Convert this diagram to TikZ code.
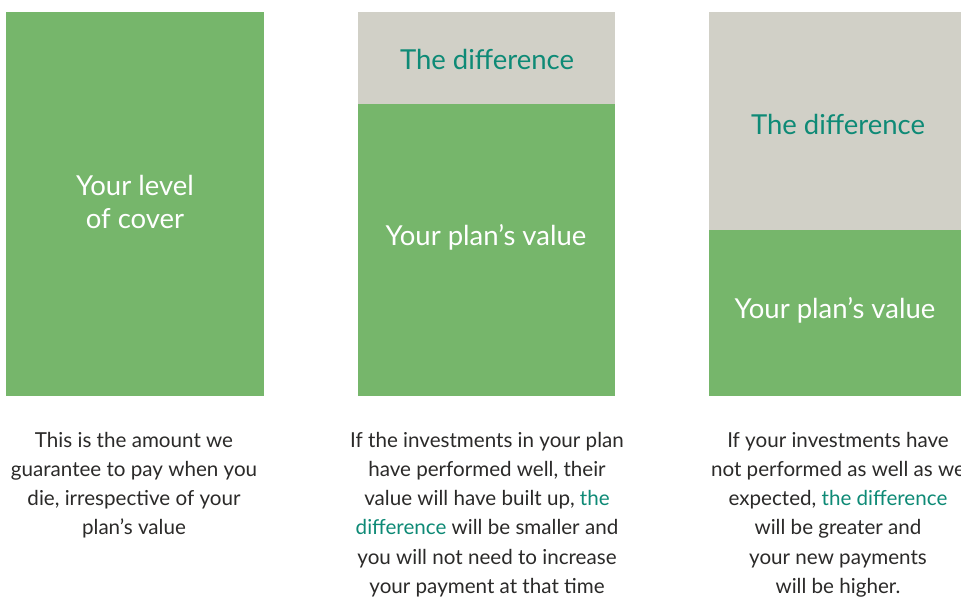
\documentclass[tikz,border=0pt]{standalone}
\usepackage{fontspec}
\setmainfont{Lato}
\definecolor{boxgreen}{HTML}{76B66B}
\definecolor{boxgray}{HTML}{D1D0C7}
\definecolor{teal}{HTML}{0E8A76}
\definecolor{ink}{HTML}{2B2A29}
\begin{document}
\begin{tikzpicture}[x=1pt,y=-1pt,
  big/.style={text=white,font=\fontsize{27.5}{33}\selectfont,align=center,inner sep=0pt},
  diff/.style={text=teal,font=\fontsize{27.5}{33}\selectfont,inner sep=0pt},
  caption/.style={text=ink,font=\fontsize{20.6}{29.2}\selectfont,align=center,anchor=north,inner sep=0pt}]
\useasboundingbox[fill=white] (0,0) rectangle (961,599);
% column 1
\fill[boxgreen] (6,12) rectangle (264,396);
\node[big] (cover) at (135,202) {Your level\\of cover};
\node[caption] (cap1) at (134,432) {This is the amount we\\guarantee to pay when you\\die, irrespective of your\\plan’s value};
% column 2
\fill[boxgray] (358,12) rectangle (615,104);
\fill[boxgreen] (358,104) rectangle (615,396);
\node[diff] (diff2) at (487,59) {The difference};
\node[big] (val2) at (486,237) {Your plan’s value};
\node[caption] (cap2) at (487,432) {If the investments in your plan\\have performed well, their\\value will have built up, \textcolor{teal}{the}\\\textcolor{teal}{difference} will be smaller and\\you will not need to increase\\your payment at that time};
% column 3
\fill[boxgray] (709,12) rectangle (962,230);
\fill[boxgreen] (709,230) rectangle (962,396);
\node[diff] (diff3) at (838,124) {The difference};
\node[big] (val3) at (835,310) {Your plan’s value};
\node[caption] (cap3) at (838,432) {If your investments have\\not performed as well as we\\expected, \textcolor{teal}{the difference}\\will be greater and\\your new payments\\will be higher.};
\end{tikzpicture}
\end{document}
